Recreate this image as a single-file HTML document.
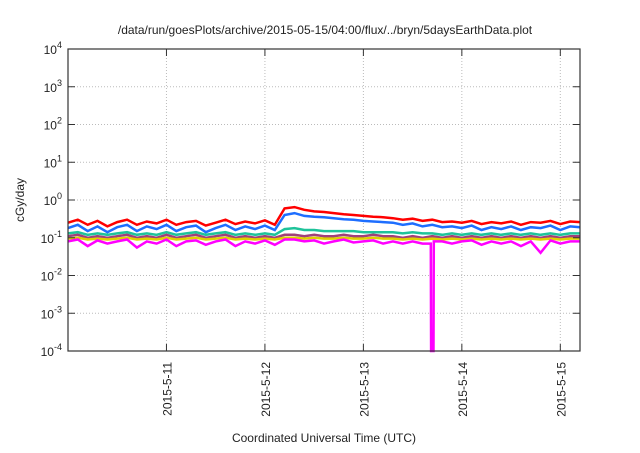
<!DOCTYPE html>
<html><head><meta charset="utf-8"><style>
body{margin:0;background:#fff}
svg text{font-family:"Liberation Sans",sans-serif;fill:#222}
</style></head><body>
<svg id="chart" width="640" height="448" xmlns="http://www.w3.org/2000/svg">
<text x="325" y="34" font-size="12" text-anchor="middle">/data/run/goesPlots/archive/2015-05-15/04:00/flux/../bryn/5daysEarthData.plot</text>
<text transform="translate(24,200) rotate(-90)" font-size="12" text-anchor="middle">cGy/day</text>
<text x="324" y="442" font-size="12" text-anchor="middle">Coordinated Universal Time (UTC)</text>
<g id="grid"></g><g id="series"></g><g id="axes"></g>
</svg>
<script>
const xTickDays=[11,12,13,14,15];
const xTickLabels=["2015-5-11","2015-5-12","2015-5-13","2015-5-14","2015-5-15"];
const yTickExps=[-4,-3,-2,-1,0,1,2,3,4];
const startDay=10.0, stepDay=0.1;
const redVals=[0.25,0.3,0.22,0.28,0.2,0.26,0.3,0.22,0.27,0.24,0.3,0.22,0.26,0.28,0.21,0.25,0.3,0.23,0.27,0.24,0.29,0.22,0.6,0.65,0.55,0.5,0.48,0.45,0.42,0.4,0.38,0.36,0.35,0.33,0.3,0.32,0.28,0.3,0.26,0.27,0.25,0.28,0.23,0.26,0.24,0.27,0.22,0.26,0.25,0.28,0.23,0.27,0.26];
const blueVals=[0.18,0.22,0.15,0.2,0.14,0.19,0.22,0.15,0.2,0.17,0.22,0.15,0.19,0.21,0.14,0.18,0.22,0.16,0.2,0.17,0.21,0.16,0.4,0.45,0.38,0.36,0.35,0.33,0.31,0.3,0.28,0.27,0.26,0.25,0.22,0.24,0.2,0.22,0.19,0.2,0.18,0.21,0.16,0.19,0.17,0.2,0.16,0.19,0.18,0.21,0.16,0.2,0.19];
const tealVals=[0.13,0.14,0.12,0.13,0.12,0.13,0.14,0.12,0.13,0.12,0.14,0.12,0.13,0.14,0.12,0.13,0.14,0.12,0.13,0.12,0.13,0.12,0.17,0.18,0.16,0.16,0.15,0.15,0.15,0.15,0.14,0.14,0.14,0.14,0.13,0.14,0.13,0.13,0.12,0.13,0.12,0.13,0.12,0.13,0.12,0.13,0.12,0.13,0.12,0.13,0.12,0.13,0.13];
const purpleVals=[0.11,0.12,0.1,0.11,0.1,0.11,0.12,0.1,0.11,0.1,0.12,0.1,0.11,0.12,0.1,0.11,0.12,0.1,0.11,0.1,0.11,0.1,0.12,0.12,0.11,0.12,0.11,0.11,0.12,0.11,0.11,0.12,0.11,0.11,0.1,0.11,0.1,0.11,0.1,0.11,0.1,0.11,0.1,0.11,0.1,0.11,0.1,0.11,0.1,0.11,0.1,0.11,0.11];
const yellowVals=[0.095,0.1,0.09,0.095,0.09,0.095,0.1,0.09,0.095,0.09,0.1,0.09,0.095,0.1,0.09,0.095,0.1,0.09,0.095,0.09,0.095,0.09,0.1,0.1,0.095,0.1,0.095,0.095,0.1,0.095,0.095,0.1,0.095,0.095,0.09,0.095,0.09,0.095,0.09,0.095,0.09,0.095,0.09,0.095,0.09,0.095,0.09,0.095,0.09,0.095,0.09,0.095,0.095];
const magentaVals=[0.08,0.09,0.06,0.085,0.07,0.08,0.09,0.055,0.08,0.07,0.09,0.06,0.08,0.085,0.065,0.08,0.09,0.06,0.08,0.07,0.085,0.065,0.09,0.09,0.08,0.085,0.07,0.08,0.09,0.075,0.08,0.085,0.07,0.08,0.07,0.08,0.07,0.0001,0.08,0.07,0.08,0.085,0.065,0.08,0.07,0.08,0.06,0.08,0.04,0.085,0.07,0.08,0.08];
const seriesList=[["red",redVals,"#ff0000"],["blue",blueVals,"#1e6eff"],["teal",tealVals,"#1ec39a"],["purple",purpleVals,"#a0407a"],["yellow",yellowVals,"#e0d000"],["magenta",magentaVals,"#ff00ff"]];
const L=68,R=580,T=49,B=351,D0=10.0,D1=15.2;
const xs=d=>L+(d-D0)/(D1-D0)*(R-L);
const ys=v=>B-(Math.log10(v)+4)/8*(B-T);
const NS="http://www.w3.org/2000/svg";
function mk(tag,attrs,parent){const e=document.createElementNS(NS,tag);for(const k in attrs)e.setAttribute(k,attrs[k]);parent.appendChild(e);return e;}
const grid=document.getElementById('grid'),axes=document.getElementById('axes'),ser=document.getElementById('series');
yTickExps.forEach(p=>{const y=ys(Math.pow(10,p));
 if(p>-4&&p<4){const g=mk('line',{x1:L,x2:R,y1:y,y2:y,stroke:'#bbb','stroke-dasharray':'1,2'},grid);}
 const t1=mk('line',{x1:L,x2:L+7,y1:y,y2:y,stroke:'#333'},axes);
 const t2=mk('line',{x1:R-7,x2:R,y1:y,y2:y,stroke:'#333'},axes);
 const tx=mk('text',{x:L-6,y:y+5,'font-size':'12','text-anchor':'end'},axes);
 tx.textContent='10';const sp=mk('tspan',{dy:'-6','font-size':'9'},tx);sp.textContent=String(p);});
xTickDays.forEach((d,i)=>{const x=xs(d);
 const g=mk('line',{x1:x,x2:x,y1:T,y2:B,stroke:'#bbb','stroke-dasharray':'1,2'},grid);
 const t1=mk('line',{x1:x,x2:x,y1:B,y2:B-7,stroke:'#333'},axes);
 const t2=mk('line',{x1:x,x2:x,y1:T,y2:T+7,stroke:'#333'},axes);
 const tx=mk('text',{transform:`translate(${x+5},${B+11}) rotate(-90)`,'font-size':'12','text-anchor':'end'},axes);tx.textContent=xTickLabels[i];});
const fr=mk('rect',{x:L,y:T,width:R-L,height:B-T,fill:'none',stroke:'#333','stroke-width':'1.2'},axes);

const cy=v=>Math.max(T,Math.min(B+2,ys(v)));
seriesList.forEach(([nm,vals,col])=>{
 const pts=[];
 vals.forEach((v,i)=>{const x=xs(startDay+i*stepDay);
  if(v<0.01&&i>0&&i<vals.length-1){
   pts.push([x-1.5,cy(vals[i-1])],[x-1.2,cy(v)],[x+1.2,cy(v)],[x+1.5,cy(vals[i+1])]);
  } else pts.push([x,cy(v)]);});
 const pl=mk('polyline',{points:pts.map(p=>p[0].toFixed(1)+','+p[1].toFixed(1)).join(' '),fill:'none',stroke:col,'stroke-width':'2.5','stroke-linejoin':'miter'},ser);
 });
</script>
</body></html>
